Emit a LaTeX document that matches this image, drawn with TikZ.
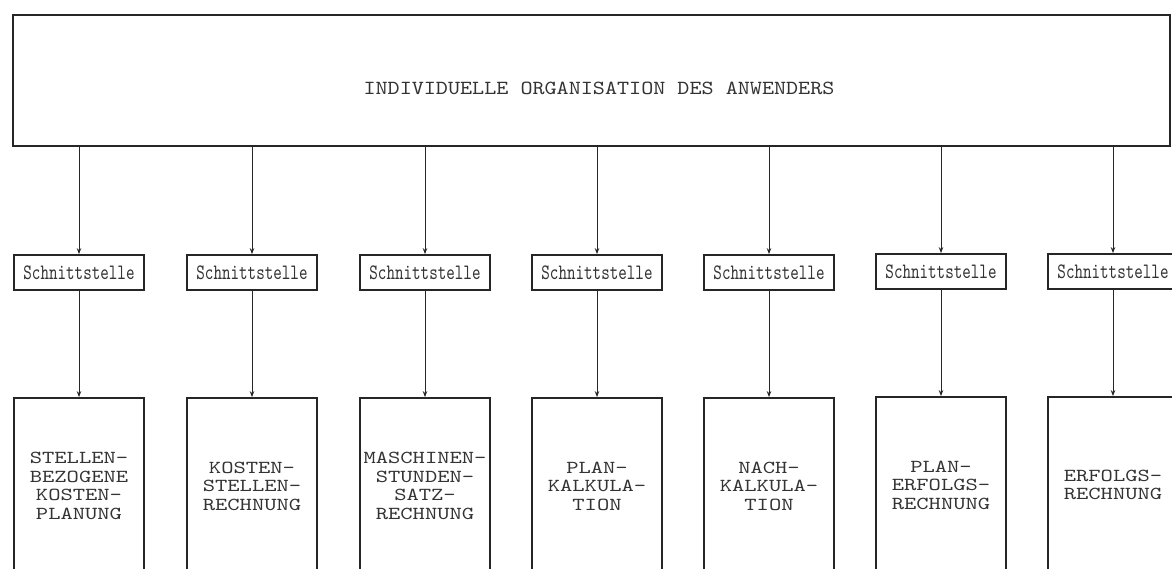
\documentclass[tikz,border=0pt]{standalone}
\usepackage{fontspec}
\usetikzlibrary{arrows.meta}
\newfontfamily\twfont[FakeStretch=1.28]{lmmono10-regular.otf}
\newfontfamily\twtitle[FakeStretch=1.15]{lmmono10-regular.otf}
\newfontfamily\twnarrow[FakeStretch=0.74]{lmmono10-regular.otf}
\definecolor{ink}{HTML}{262626}
\definecolor{textink}{HTML}{333333}
\begin{document}
\begin{tikzpicture}[x=1pt,y=1pt,
  topbox/.style={draw=ink, line width=2.4pt, minimum width=1157pt, minimum height=131pt, inner sep=0pt},
  titletext/.style={text=textink, font=\twtitle\fontsize{20}{20}\selectfont, inner sep=0pt},
  ifbox/.style={draw=ink, line width=1.8pt, minimum width=130pt, minimum height=35pt, inner sep=0pt,
    text=textink, font=\twnarrow\fontsize{22}{22}\selectfont},
  modbox/.style={draw=ink, line width=1.8pt, minimum width=130pt, minimum height=176pt, inner sep=0pt,
    text=textink, align=center, font=\twfont\fontsize{18.3}{18.5}\selectfont},
  arr/.style={draw=ink, line width=0.9pt, -{Stealth[length=6pt,width=4.5pt]}}
]
\useasboundingbox (0,0) rectangle (1172,-569);
\fill[white] (0,0) rectangle (1172,-569);

\node[topbox] (top) at (591.5,-80.5) {};
\node[titletext] (title) at (599,-88) {INDIVIDUELLE ORGANISATION DES ANWENDERS};

% interface boxes
\node[ifbox] (s1) at (79,-272.5) {Schnittstelle};
\node[ifbox] (s2) at (252,-272.5) {Schnittstelle};
\node[ifbox] (s3) at (425,-272.5) {Schnittstelle};
\node[ifbox] (s4) at (597,-272.5) {Schnittstelle};
\node[ifbox] (s5) at (769,-272.5) {Schnittstelle};
\node[ifbox] (s6) at (941,-271.5) {Schnittstelle};
\node[ifbox] (s7) at (1113,-271.5) {Schnittstelle};

% module boxes
\node[modbox] (m1) at (79,-486) {STELLEN-\\BEZOGENE\\KOSTEN-\\PLANUNG};
\node[modbox] (m2) at (252,-486) {KOSTEN-\\STELLEN-\\RECHNUNG};
\node[modbox] (m3) at (425,-486) {MASCHINEN-\\STUNDEN-\\SATZ-\\RECHNUNG};
\node[modbox] (m4) at (597,-486) {PLAN-\\KALKULA-\\TION};
\node[modbox] (m5) at (769,-486) {NACH-\\KALKULA-\\TION};
\node[modbox] (m6) at (941,-485) {PLAN-\\ERFOLGS-\\RECHNUNG};
\node[modbox] (m7) at (1113,-485) {ERFOLGS-\\RECHNUNG};

\foreach \i in {1,...,7}{
  \draw[arr] (top.south -| s\i.north) -- (s\i.north);
  \draw[arr] (s\i.south) -- (m\i.north);
}
\end{tikzpicture}
\end{document}
